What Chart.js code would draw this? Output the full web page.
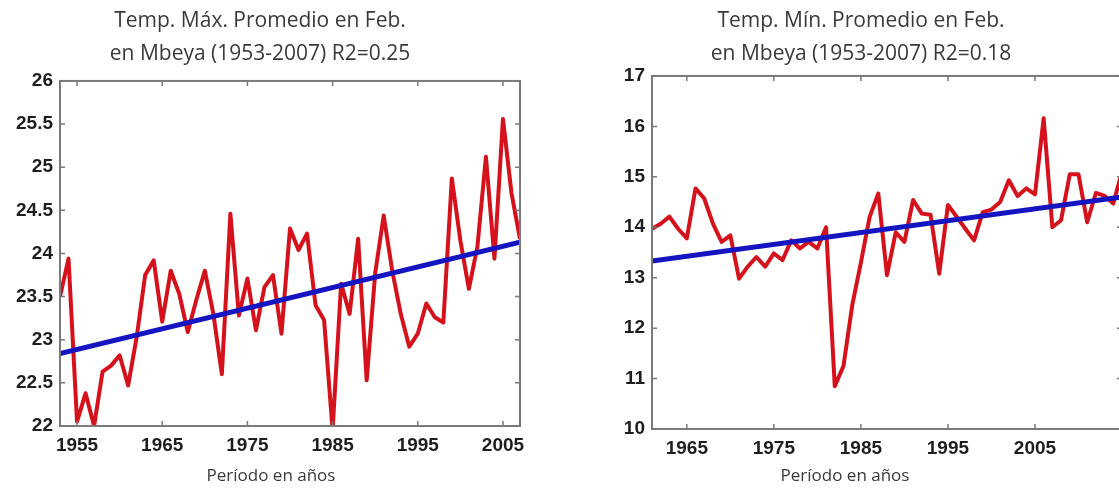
<!DOCTYPE html>
<html><head><meta charset="utf-8">
<script src="https://cdn.jsdelivr.net/npm/chart.js@4.4.1/dist/chart.umd.min.js"></script>
<style>
html,body{margin:0;padding:0;background:#fff;width:1119px;height:495px;overflow:hidden;position:relative;}
canvas{position:absolute;top:0;}
#cMax{left:0;}
#cMin{left:600px;}
</style></head><body>
<canvas id="cMax" width="540" height="495"></canvas>
<canvas id="cMin" width="556" height="495"></canvas>
<script>
// ---- Left panel: Temp. Máx. ----
const maxYears = [1953,1954,1955,1956,1957,1958,1959,1960,1961,1962,1963,1964,1965,1966,1967,1968,1969,1970,1971,1972,1973,1974,1975,1976,1977,1978,1979,1980,1981,1982,1983,1984,1985,1986,1987,1988,1989,1990,1991,1992,1993,1994,1995,1996,1997,1998,1999,2000,2001,2002,2003,2004,2005,2006,2007];
const maxValues = [23.5,23.94,22.05,22.38,22.0,22.63,22.7,22.82,22.47,23.03,23.75,23.92,23.21,23.8,23.53,23.09,23.46,23.8,23.3,22.6,24.46,23.28,23.71,23.11,23.61,23.75,23.07,24.29,24.04,24.23,23.4,23.23,21.95,23.65,23.3,24.17,22.53,23.77,24.44,23.8,23.3,22.92,23.07,23.42,23.26,23.2,24.87,24.15,23.59,24.08,25.12,23.94,25.56,24.7,24.17];
const maxTrendYears = [1953, 2007];
const maxTrendValues = [22.84, 24.13];
const maxXTicks = [1955,1965,1975,1985,1995,2005];
const maxYTicks = [22,22.5,23,23.5,24,24.5,25,25.5,26];
const maxYTickLabels = ['22','22.5','23','23.5','24','24.5','25','25.5','26'];
const maxTitle = ['Temp. Máx. Promedio en Feb.', 'en Mbeya (1953-2007) R2=0.25'];

// ---- Right panel: Temp. Mín. ----
const minYears = [1961,1962,1963,1964,1965,1966,1967,1968,1969,1970,1971,1972,1973,1974,1975,1976,1977,1978,1979,1980,1981,1982,1983,1984,1985,1986,1987,1988,1989,1990,1991,1992,1993,1994,1995,1996,1997,1998,1999,2000,2001,2002,2003,2004,2005,2006,2007,2008,2009,2010,2011,2012,2013,2014,2015];
const minValues = [13.97,14.07,14.21,13.97,13.78,14.77,14.57,14.07,13.71,13.84,12.98,13.22,13.41,13.22,13.48,13.35,13.74,13.58,13.71,13.58,14.0,10.85,11.25,12.45,13.3,14.2,14.67,13.05,13.9,13.71,14.54,14.27,14.25,13.08,14.44,14.21,13.97,13.74,14.3,14.35,14.5,14.93,14.62,14.77,14.65,16.16,14.0,14.14,15.05,15.05,14.1,14.68,14.62,14.47,15.1];
const minTrendYears = [1961, 2015];
const minTrendValues = [13.33, 14.6];
const minXTicks = [1965,1975,1985,1995,2005];
const minYTicks = [10,11,12,13,14,15,16,17];
const minYTickLabels = ['10','11','12','13','14','15','16','17'];
const minTitle = ['Temp. Mín. Promedio en Feb.', 'en Mbeya (1953-2007) R2=0.18'];

const xAxisTitle = 'Período en años';

const framePlugin = {
  id: 'frame',
  afterDraw(chart, args, opts) {
    const ctx = chart.ctx, a = chart.chartArea, sx = chart.scales.x, sy = chart.scales.y;
    ctx.save();
    ctx.strokeStyle = '#7a7a7a';
    ctx.lineWidth = 2;
    ctx.strokeRect(a.left, a.top, a.right - a.left, a.bottom - a.top);
    ctx.lineWidth = 1.5;
    const L = 5;
    ctx.beginPath();
    sx.ticks.forEach(t => {
      const p = sx.getPixelForValue(t.value);
      ctx.moveTo(p, a.bottom); ctx.lineTo(p, a.bottom - L);
      ctx.moveTo(p, a.top); ctx.lineTo(p, a.top + L);
    });
    sy.ticks.forEach(t => {
      const p = sy.getPixelForValue(t.value);
      ctx.moveTo(a.left, p); ctx.lineTo(a.left + L, p);
      ctx.moveTo(a.right, p); ctx.lineTo(a.right - L, p);
    });
    ctx.stroke();
    ctx.fillStyle = '#3a3a3a';
    ctx.font = '17px "Open Sans", sans-serif';
    ctx.textAlign = 'center';
    ctx.textBaseline = 'middle';
    ctx.fillText(opts.text, opts.x, opts.y);
    ctx.restore();
  }
};

const tickFont = {family: '"Liberation Sans", Arial, sans-serif', size: 19, weight: 'bold'};

function makeChart(id, cfg) {
  return new Chart(document.getElementById(id), {
    type: 'line',
    data: {
      datasets: [
        {
          data: cfg.years.map((yr, i) => ({x: yr, y: cfg.values[i]})),
          borderColor: '#d5111b', borderWidth: 4, pointRadius: 0, tension: 0, order: 1,
          borderJoinStyle: 'round'
        },
        {
          data: cfg.trendYears.map((yr, i) => ({x: yr, y: cfg.trendValues[i]})),
          borderColor: '#1414c0', borderWidth: 5, pointRadius: 0, tension: 0, order: 0
        }
      ]
    },
    options: {
      responsive: false,
      animation: false,
      events: [],
      layout: {padding: {left: 0, top: 0, right: cfg.padRight, bottom: 0}},
      plugins: {
        legend: {display: false},
        tooltip: {enabled: false},
        title: {
          display: true, text: cfg.title, color: '#3a3a3a',
          font: {family: '"Open Sans", sans-serif', size: 21, weight: 'normal', lineHeight: 1.57},
          padding: {top: 4.5, bottom: cfg.titlePadBottom}
        },
        frame: {text: xAxisTitle, x: cfg.xTitleX, y: 476}
      },
      scales: {
        x: {
          type: 'linear', min: cfg.xMin, max: cfg.xMax,
          grid: {display: false, drawTicks: false},
          border: {display: false},
          afterBuildTicks: s => { s.ticks = cfg.xTicks.map(v => ({value: v})); },
          afterFit: s => { s.height = cfg.xAxisHeight; },
          ticks: {autoSkip: false, maxRotation: 0, minRotation: 0, padding: 8, color: '#1e1e1e', font: tickFont,
                  callback: (v) => String(v)}
        },
        y: {
          type: 'linear', min: cfg.yTicks[0], max: cfg.yTicks[cfg.yTicks.length - 1],
          grid: {display: false, drawTicks: false},
          border: {display: false},
          afterBuildTicks: s => { s.ticks = cfg.yTicks.map(v => ({value: v})); },
          afterFit: s => { s.width = cfg.yAxisWidth; },
          ticks: {autoSkip: false, padding: 7, color: '#1e1e1e', font: tickFont,
                  callback: (v, i) => cfg.yLabels[i]}
        }
      }
    },
    plugins: [framePlugin]
  });
}

makeChart('cMax', {
  years: maxYears, values: maxValues, trendYears: maxTrendYears, trendValues: maxTrendValues,
  xTicks: maxXTicks, yTicks: maxYTicks, yLabels: maxYTickLabels, title: maxTitle,
  xMin: 1953, xMax: 2007, padRight: 20, titlePadBottom: 10.5, xAxisHeight: 69, yAxisWidth: 60, xTitleX: 271
});
makeChart('cMin', {
  years: minYears, values: minValues, trendYears: minTrendYears, trendValues: minTrendValues,
  xTicks: minXTicks, yTicks: minYTicks, yLabels: minYTickLabels, title: minTitle,
  xMin: 1961, xMax: 2015, padRight: 34, titlePadBottom: 5.5, xAxisHeight: 66, yAxisWidth: 52, xTitleX: 245
});
</script>
</body></html>
